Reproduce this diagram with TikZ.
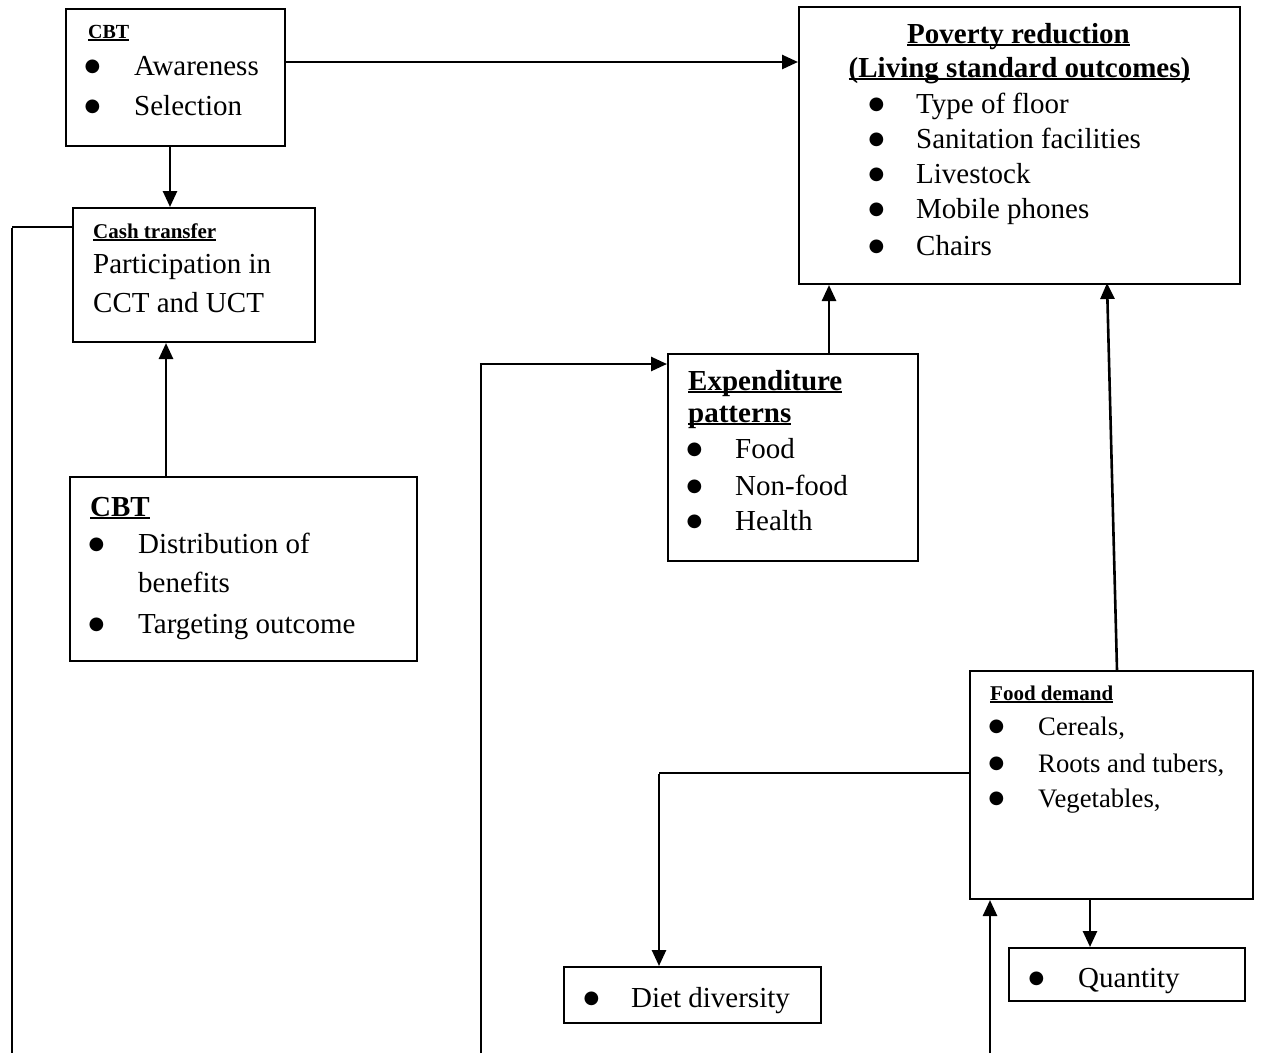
\documentclass[tikz,border=0pt]{standalone}
\usepackage{fontspec}
\setmainfont{Liberation Serif}
\newfontfamily\dejavu{DejaVu Sans}
\usetikzlibrary{arrows.meta}
\newcommand{\myul}[1]{\setbox0\hbox{#1}\rlap{\rule[-3pt]{\wd0}{1.8pt}}\box0}
\newcommand{\bigbul}{\raisebox{3.5pt}{\dejavu\fontsize{18}{18}\selectfont ●}}
\newcommand{\bul}[2]{\hbox to #1{\kern-1.5pt\bigbul\hss}#2}
\begin{document}
\begin{tikzpicture}[x=1pt,y=-1pt,
  boxn/.style={draw, line width=2pt, rectangle, inner sep=0pt, anchor=north west},
  txt/.style={anchor=base west, inner sep=0pt, font=\fontsize{29}{35}\selectfont},
  smalltxt/.style={anchor=base west, inner sep=0pt, font=\fontsize{21}{25}\selectfont\bfseries},
  foodtxt/.style={anchor=base west, inner sep=0pt, font=\fontsize{26.7}{32}\selectfont},
  arr/.style={line width=2.6pt, -{Triangle[length=16pt,width=14pt]}},
  thickline/.style={line width=2.4pt},
  thinline/.style={line width=1.2pt}]
\useasboundingbox (0,0) rectangle (1261,1053);

% boxes
\node[boxn, minimum width=219pt, minimum height=137pt] (cbta) at (65,8) {};
\node[boxn, minimum width=242pt, minimum height=134pt] (cash) at (72,207) {};
\node[boxn, minimum width=347pt, minimum height=184pt] (cbtb) at (69,476) {};
\node[boxn, minimum width=441pt, minimum height=277pt] (pov) at (798,6) {};
\node[boxn, minimum width=250pt, minimum height=207pt] (exp) at (667,353) {};
\node[boxn, minimum width=283pt, minimum height=228pt] (food) at (969,670) {};
\node[boxn, minimum width=236pt, minimum height=53pt] (qty) at (1008,947) {};
\node[boxn, minimum width=257pt, minimum height=56pt] (diet) at (563,966) {};

% CBT top
\node[smalltxt, font=\fontsize{20}{24}\selectfont\bfseries] (t1) at (88,38) {\myul{CBT}};
\node[txt] (t2) at (86,75) {\bul{48pt}{Awareness}};
\node[txt] (t3) at (86,115) {\bul{48pt}{Selection}};

% Cash transfer
\node[smalltxt] (t4) at (93,238) {\myul{Cash transfer}};
\node[txt] (t5) at (93,273) {Participation in};
\node[txt] (t6) at (93,312) {CCT and UCT};

% CBT bottom
\node[txt, font=\fontsize{29}{35}\selectfont\bfseries] (t7) at (90,516) {\myul{CBT}};
\node[txt] (t8) at (90,553) {\bul{48pt}{Distribution of}};
\node[txt] (t9) at (138,592) {benefits};
\node[txt] (t10) at (90,633) {\bul{48pt}{Targeting outcome}};

% Poverty reduction
\node[txt, anchor=base, font=\fontsize{29}{35}\selectfont\bfseries] (t11) at (1018.5,43) {\myul{Poverty reduction}};
\node[txt, anchor=base, font=\fontsize{29}{35}\selectfont\bfseries] (t12) at (1019.5,77) {\myul{(Living standard outcomes)}};
\node[txt] (t13) at (870,113) {\bul{46pt}{Type of floor}};
\node[txt] (t14) at (870,148) {\bul{46pt}{Sanitation facilities}};
\node[txt] (t15) at (870,183) {\bul{46pt}{Livestock}};
\node[txt] (t16) at (870,218) {\bul{46pt}{Mobile phones}};
\node[txt] (t17) at (870,255) {\bul{46pt}{Chairs}};

% Expenditure
\node[txt, font=\fontsize{29}{35}\selectfont\bfseries] (t18) at (688,390) {\myul{Expenditure}};
\node[txt, font=\fontsize{29}{35}\selectfont\bfseries] (t19) at (688,422) {\myul{patterns}};
\node[txt] (t20) at (688,458) {\bul{47pt}{Food}};
\node[txt] (t21) at (688,495) {\bul{47pt}{Non-food}};
\node[txt] (t22) at (688,530) {\bul{47pt}{Health}};

% Food demand
\node[smalltxt] (t23) at (990,700) {\myul{Food demand}};
\node[foodtxt] (t24) at (990,735) {\bul{48pt}{Cereals,}};
\node[foodtxt] (t25) at (990,772) {\bul{48pt}{Roots and tubers,}};
\node[foodtxt] (t26) at (990,807) {\bul{48pt}{Vegetables,}};

% Quantity / Diet
\node[txt] (t27) at (1030,987) {\bul{48pt}{Quantity}};
\node[txt] (t28) at (585,1007) {\bul{46pt}{Diet diversity}};

% free ends
\coordinate (e1) at (12,1053);
\coordinate (e2) at (481,1053);
\coordinate (e3) at (990,1053);
\coordinate (c1) at (12,227);
\coordinate (c2) at (481,364);
\coordinate (c3) at (659,773);

% connectors
\draw[arr] (cbta.east |- 0,62) -- (pov.west |- 0,62);
\draw[arr] (cbta.south -| 170,0) -- (cash.north -| 170,0);
\draw[arr] (cbtb.north -| 166,0) -- (cash.south -| 166,0);
\draw[thinline] (cash.west |- c1) -- (c1);
\draw[thickline] ([yshift=-0.6pt]c1) -- (e1);
\draw[thickline] (e2) -- ([yshift=-1.3pt]c2);
\draw[arr] ([xshift=-1.2pt]c2) -- (exp.west |- c2);
\draw[arr] (exp.north -| 829,0) -- (pov.south -| 829,0);
\draw[arr] (food.north -| 1117,0) -- (1107,283);
\draw[thinline] (food.west |- c3) -- (c3);
\draw[arr] ([yshift=-0.6pt]c3) -- (diet.north -| c3);
\draw[arr] (food.south -| 1090,0) -- (qty.north -| 1090,0);
\draw[arr] (e3) -- (food.south -| e3);
\end{tikzpicture}
\end{document}
